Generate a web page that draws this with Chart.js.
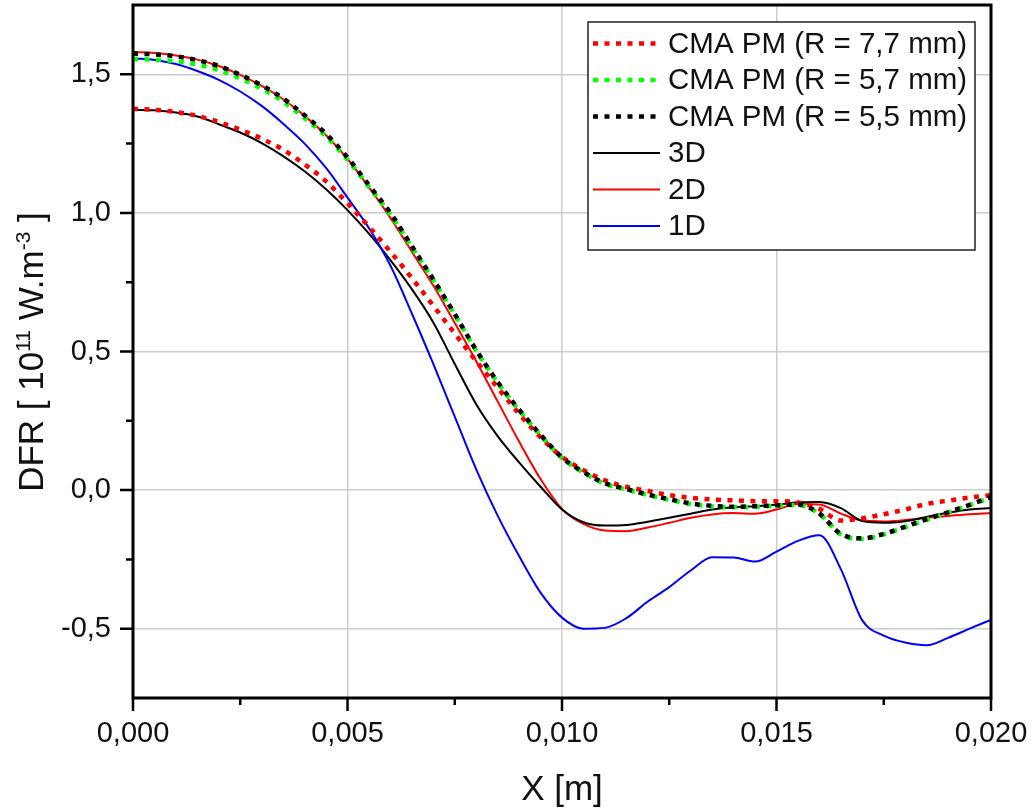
<!DOCTYPE html>
<html>
<head>
<meta charset="utf-8">
<title>DFR</title>
<script src="https://cdn.jsdelivr.net/npm/chart.js@4.4.1/dist/chart.umd.min.js"></script>
<style>
  html, body { margin: 0; padding: 0; background: #fff; }
  #wrap { width: 1032px; height: 809px; }
</style>
</head>
<body>
<div id="wrap"><canvas id="graph"></canvas></div>
<script>
// X positions in metres
const xPositions = [
  0, 0.0005, 0.001, 0.0015, 0.002, 0.0025, 0.003, 0.0035, 0.004, 0.0045,
  0.005, 0.0055, 0.006, 0.0065, 0.007, 0.0075, 0.008, 0.0085, 0.009, 0.0095,
  0.010, 0.0105, 0.011, 0.0115, 0.012, 0.0125, 0.013, 0.0135, 0.014, 0.0145,
  0.015, 0.0155, 0.016, 0.0165, 0.017, 0.0175, 0.018, 0.0185, 0.019, 0.0195,
  0.020
];

// DFR values, 10^11 W.m^-3
const cma77 = [
  1.375, 1.372, 1.364, 1.350, 1.328, 1.300, 1.268, 1.228, 1.175, 1.114,
  1.035, 0.950, 0.860, 0.765, 0.665, 0.565, 0.465, 0.370, 0.275, 0.190,
  0.120, 0.072, 0.035, 0.012, -0.003, -0.018, -0.028, -0.034, -0.037, -0.040,
  -0.040, -0.045, -0.068, -0.110, -0.102, -0.087, -0.070, -0.050, -0.038, -0.027,
  -0.018
];
const cma57 = [
  1.555, 1.553, 1.547, 1.535, 1.515, 1.485, 1.448, 1.401, 1.342, 1.276,
  1.192, 1.094, 0.994, 0.876, 0.757, 0.633, 0.503, 0.388, 0.288, 0.198,
  0.116, 0.063, 0.023, 0.002, -0.018, -0.035, -0.050, -0.059, -0.062, -0.060,
  -0.057, -0.054, -0.086, -0.160, -0.176, -0.160, -0.134, -0.107, -0.081, -0.054,
  -0.027
];
const cma55 = [
  1.575, 1.572, 1.565, 1.551, 1.530, 1.498, 1.460, 1.413, 1.352, 1.285,
  1.200, 1.100, 1.000, 0.880, 0.760, 0.635, 0.505, 0.390, 0.290, 0.200,
  0.118, 0.065, 0.025, 0.004, -0.016, -0.033, -0.048, -0.057, -0.060, -0.058,
  -0.055, -0.052, -0.085, -0.158, -0.174, -0.158, -0.132, -0.105, -0.080, -0.053,
  -0.025
];
const dfr3D = [
  1.372, 1.370, 1.362, 1.348, 1.320, 1.290, 1.252, 1.205, 1.150, 1.085,
  1.010, 0.925, 0.830, 0.725, 0.605, 0.455, 0.310, 0.195, 0.100, 0.012,
  -0.070, -0.116, -0.128, -0.126, -0.114, -0.100, -0.085, -0.070, -0.062, -0.058,
  -0.053, -0.044, -0.043, -0.065, -0.112, -0.118, -0.112, -0.097, -0.082, -0.070,
  -0.065
];
const dfr2D = [
  1.580, 1.577, 1.568, 1.553, 1.530, 1.498, 1.458, 1.410, 1.350, 1.280,
  1.195, 1.092, 0.982, 0.860, 0.738, 0.603, 0.465, 0.320, 0.175, 0.040,
  -0.068, -0.122, -0.146, -0.148, -0.135, -0.118, -0.100, -0.088, -0.083, -0.085,
  -0.070, -0.050, -0.052, -0.085, -0.110, -0.113, -0.108, -0.100, -0.093, -0.087,
  -0.083
];
const dfr1D = [
  1.557, 1.552, 1.537, 1.512, 1.480, 1.438, 1.386, 1.322, 1.250, 1.162,
  1.055, 0.945, 0.810, 0.637, 0.455, 0.265, 0.075, -0.092, -0.238, -0.370,
  -0.460, -0.500, -0.497, -0.462, -0.402, -0.350, -0.290, -0.242, -0.243, -0.258,
  -0.222, -0.183, -0.163, -0.285, -0.470, -0.525, -0.550, -0.560, -0.533, -0.500,
  -0.468
];

// axis ticks
const xTicks = [0, 0.005, 0.010, 0.015, 0.020];
const xMinorTicks = [0.0025, 0.0075, 0.0125, 0.0175];
const yTicks = [-0.5, 0, 0.5, 1.0, 1.5];
const yMinorTicks = [-0.25, 0.25, 0.75, 1.25];

const FONT = "'Liberation Sans', Arial, sans-serif";

function toPoints(values) {
  return values.map((v, i) => ({ x: xPositions[i], y: v }));
}

function dotted(label, values, color, order) {
  return {
    label: label,
    data: toPoints(values),
    borderColor: color,
    borderWidth: 4.5,
    borderDash: [5, 6.5],
    borderCapStyle: 'butt',
    pointRadius: 0,
    cubicInterpolationMode: 'monotone',
    order: order,
  };
}

function solid(label, values, color, order) {
  return {
    label: label,
    data: toPoints(values),
    borderColor: color,
    borderWidth: 2,
    pointRadius: 0,
    cubicInterpolationMode: 'monotone',
    order: order,
  };
}

const datasets = [
  dotted('CMA PM (R = 7,7 mm)', cma77, '#ff0000', 3),
  dotted('CMA PM (R = 5,7 mm)', cma57, '#00ff00', 2),
  dotted('CMA PM (R = 5,5 mm)', cma55, '#000000', 1),
  solid('3D', dfr3D, '#000000', 5),
  solid('2D', dfr2D, '#ff0000', 6),
  solid('1D', dfr1D, '#0000ff', 4),
];

function noPadding(scale) {
  scale.paddingLeft = 0;
  scale.paddingRight = 0;
  scale.paddingTop = 0;
  scale.paddingBottom = 0;
}

// frame, tick marks, titles and legend box
const decorations = {
  id: 'decorations',
  afterDraw(chart) {
    const ctx = chart.ctx;
    const area = chart.chartArea;
    const xs = chart.scales.x;
    const ys = chart.scales.y;
    ctx.save();

    ctx.strokeStyle = '#000';
    ctx.lineWidth = 3;
    ctx.strokeRect(area.left, area.top, area.right - area.left, area.bottom - area.top);

    ctx.lineWidth = 2.5;
    ctx.beginPath();
    xTicks.forEach(v => {
      const p = xs.getPixelForValue(v);
      ctx.moveTo(p, area.bottom); ctx.lineTo(p, area.bottom + 13);
    });
    xMinorTicks.forEach(v => {
      const p = xs.getPixelForValue(v);
      ctx.moveTo(p, area.bottom); ctx.lineTo(p, area.bottom + 7);
    });
    yTicks.forEach(v => {
      const p = ys.getPixelForValue(v);
      ctx.moveTo(area.left, p); ctx.lineTo(area.left - 13, p);
    });
    yMinorTicks.forEach(v => {
      const p = ys.getPixelForValue(v);
      ctx.moveTo(area.left, p); ctx.lineTo(area.left - 7, p);
    });
    ctx.stroke();

    // x title
    ctx.fillStyle = '#111';
    ctx.textAlign = 'center';
    ctx.textBaseline = 'alphabetic';
    ctx.font = '35px ' + FONT;
    ctx.fillText('X [m]', (area.left + area.right) / 2, 800);

    // y title with superscripts
    const parts = [
      ['DFR [ 10', false], ['11', true], [' W.m', false], ['-3', true], [' ]', false]
    ];
    const big = '35px ' + FONT, small = '21px ' + FONT;
    let total = 0;
    parts.forEach(p => { ctx.font = p[1] ? small : big; total += ctx.measureText(p[0]).width; });
    ctx.translate(43, 352);
    ctx.rotate(-Math.PI / 2);
    ctx.textAlign = 'left';
    let cx = -total / 2;
    parts.forEach(p => {
      ctx.font = p[1] ? small : big;
      ctx.fillText(p[0], cx, p[1] ? -13 : 0);
      cx += ctx.measureText(p[0]).width;
    });
    ctx.setTransform(1, 0, 0, 1, 0, 0);

    // legend
    const box = { left: 588, top: 22, width: 387, height: 228 };
    ctx.fillStyle = '#fff';
    ctx.fillRect(box.left, box.top, box.width, box.height);
    ctx.strokeStyle = '#222';
    ctx.lineWidth = 1.5;
    ctx.strokeRect(box.left, box.top, box.width, box.height);
    ctx.font = '29.5px ' + FONT;
    ctx.textBaseline = 'middle';
    chart.data.datasets.forEach((ds, i) => {
      const y = 43.5 + i * 36.5;
      ctx.save();
      ctx.strokeStyle = ds.borderColor;
      ctx.lineWidth = ds.borderWidth;
      ctx.setLineDash(ds.borderDash || []);
      ctx.beginPath();
      ctx.moveTo(593, y); ctx.lineTo(660, y);
      ctx.stroke();
      ctx.restore();
      ctx.fillStyle = '#111';
      ctx.fillText(ds.label, 668, y + 1);
    });
    ctx.restore();
  }
};

const ctx = document.getElementById('graph').getContext('2d');
new Chart(ctx, {
  type: 'line',
  data: { datasets: datasets },
  plugins: [decorations],
  options: {
    responsive: true,
    maintainAspectRatio: false,
    animation: false,
    layout: { padding: { top: 5, right: 41, left: 0, bottom: 0 } },
    plugins: { legend: { display: false }, tooltip: { enabled: false } },
    scales: {
      x: {
        type: 'linear',
        min: 0,
        max: 0.02,
        afterBuildTicks: (scale) => { scale.ticks = xTicks.map(v => ({ value: v })); },
        afterFit: (scale) => { scale.height = 111; noPadding(scale); },
        grid: { color: '#cccccc', lineWidth: 1.5, drawTicks: false },
        border: { display: false },
        ticks: {
          padding: 19,
          color: '#111',
          font: { family: FONT, size: 29 },
          maxRotation: 0,
          callback: (v) => v.toFixed(3).replace('.', ','),
        },
      },
      y: {
        type: 'linear',
        min: -0.75,
        max: 1.75,
        afterBuildTicks: (scale) => { scale.ticks = yTicks.map(v => ({ value: v })); },
        afterFit: (scale) => { scale.width = 133; noPadding(scale); },
        grid: { color: '#cccccc', lineWidth: 1.5, drawTicks: false },
        border: { display: false },
        ticks: {
          padding: 22,
          color: '#111',
          font: { family: FONT, size: 29 },
          callback: (v) => v.toFixed(1).replace('.', ','),
        },
      },
    },
  },
});
</script>
</body>
</html>
